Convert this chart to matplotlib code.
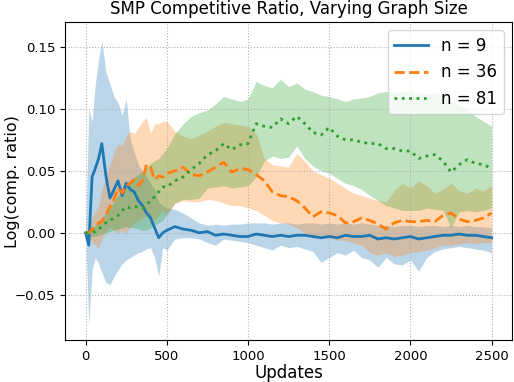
import numpy as np
import matplotlib
matplotlib.use('Agg')
import matplotlib.pyplot as plt

updates = [0, 20, 40, 60, 80, 100, 125, 150, 175, 200, 225, 250, 275, 300, 325, 350,
           375, 400, 425, 450, 475, 500, 550, 600, 650, 700, 750, 800, 850, 900, 950,
           1000, 1050, 1100, 1150, 1200, 1250, 1300, 1350, 1400, 1450, 1500, 1550,
           1600, 1650, 1700, 1750, 1800, 1850, 1900, 1950, 2000, 2050, 2100, 2150,
           2200, 2250, 2300, 2350, 2400, 2450, 2500]

# n = 9
n9_mean = [0, -0.010, 0.045, 0.052, 0.060, 0.072, 0.046, 0.028, 0.035, 0.042, 0.030, 0.040,
           0.035, 0.033, 0.026, 0.022, 0.016, 0.012, 0.004, -0.004, 0.0, 0.002, 0.005, 0.003,
           0.002, 0.0, 0.001, -0.002, -0.001, -0.002, -0.003, -0.003, -0.001, -0.002, -0.003,
           -0.002, -0.003, -0.002, -0.002, -0.003, -0.004, -0.003, -0.004, -0.002, -0.003,
           -0.003, -0.002, -0.005, -0.004, -0.005, -0.004, -0.003, -0.005, -0.004, -0.003,
           -0.002, -0.002, -0.001, -0.002, -0.002, -0.003, -0.004]
n9_hi = [0, 0.10, 0.09, 0.12, 0.14, 0.155, 0.13, 0.12, 0.11, 0.105, 0.095, 0.108, 0.075,
         0.065, 0.055, 0.05, 0.045, 0.04, 0.035, 0.025, 0.022, 0.02, 0.019, 0.016, 0.012,
         0.008, 0.006, 0.007, 0.006, 0.007, 0.007, 0.008, 0.008, 0.008, 0.007, 0.008, 0.008,
         0.007, 0.008, 0.008, 0.007, 0.008, 0.007, 0.008, 0.007, 0.008, 0.007, 0.006, 0.006,
         0.005, 0.006, 0.006, 0.005, 0.006, 0.006, 0.005, 0.006, 0.005, 0.006, 0.005, 0.005,
         0.004]
n9_lo = [0, -0.075, -0.03, -0.02, -0.025, -0.032, -0.04, -0.042, -0.035, -0.03, -0.025,
         -0.022, -0.02, -0.018, -0.016, -0.015, -0.013, -0.012, -0.02, -0.035, -0.012, -0.014,
         -0.005, -0.004, -0.004, -0.005, -0.008, -0.010, -0.005, -0.006, -0.007, -0.008, -0.010,
         -0.012, -0.014, -0.010, -0.012, -0.011, -0.013, -0.015, -0.024, -0.020, -0.016, -0.018,
         -0.014, -0.020, -0.022, -0.028, -0.020, -0.025, -0.026, -0.022, -0.031, -0.020, -0.015,
         -0.013, -0.012, -0.011, -0.012, -0.013, -0.014, -0.016]

# n = 36
n36_mean = [0, 0.0, 0.003, 0.005, 0.008, 0.009, 0.015, 0.021, 0.027, 0.036, 0.032, 0.038,
            0.040, 0.043, 0.038, 0.042, 0.055, 0.053, 0.043, 0.046, 0.045, 0.048, 0.050, 0.053,
            0.047, 0.046, 0.049, 0.053, 0.057, 0.049, 0.052, 0.051, 0.047, 0.042, 0.033, 0.030,
            0.029, 0.026, 0.020, 0.013, 0.017, 0.016, 0.014, 0.008, 0.009, 0.012, 0.010, 0.007,
            0.003, 0.008, 0.010, 0.009, 0.009, 0.010, 0.009, 0.014, 0.016, 0.011, 0.009, 0.010,
            0.012, 0.016]
n36_hi = [0, 0.005, 0.012, 0.018, 0.022, 0.035, 0.045, 0.055, 0.065, 0.072, 0.070, 0.078,
          0.082, 0.08, 0.085, 0.09, 0.093, 0.08, 0.088, 0.088, 0.090, 0.090, 0.082, 0.078,
          0.076, 0.079, 0.082, 0.086, 0.089, 0.088, 0.087, 0.086, 0.080, 0.060, 0.055, 0.054,
          0.053, 0.064, 0.058, 0.050, 0.047, 0.044, 0.040, 0.036, 0.032, 0.030, 0.028, 0.026,
          0.025, 0.034, 0.040, 0.036, 0.042, 0.038, 0.032, 0.035, 0.040, 0.034, 0.032, 0.036,
          0.034, 0.038]
n36_lo = [0, -0.004, -0.008, -0.010, -0.012, -0.005, 0.0, 0.005, 0.002, 0.0, 0.002, 0.0,
          0.005, 0.008, 0.010, 0.012, 0.014, 0.012, 0.010, 0.015, 0.018, 0.014, 0.024, 0.026,
          0.025, 0.025, 0.027, 0.026, 0.024, 0.022, 0.022, 0.020, 0.018, 0.014, 0.010, 0.008,
          0.007, 0.004, 0.0, -0.004, -0.002, -0.004, -0.006, -0.006, -0.008, -0.010, -0.016,
          -0.018, -0.016, -0.019, -0.018, -0.016, -0.015, -0.014, -0.012, -0.010, -0.010,
          -0.009, -0.008, -0.009, -0.008, -0.008]

# n = 81
n81_mean = [0, 0.0, 0.0, 0.001, 0.003, 0.005, 0.008, 0.010, 0.012, 0.014, 0.018, 0.021,
            0.020, 0.021, 0.021, 0.020, 0.022, 0.026, 0.029, 0.033, 0.037, 0.037, 0.042, 0.045,
            0.051, 0.056, 0.063, 0.066, 0.072, 0.067, 0.071, 0.072, 0.088, 0.086, 0.085, 0.092,
            0.088, 0.094, 0.088, 0.081, 0.079, 0.085, 0.078, 0.075, 0.075, 0.073, 0.072, 0.072,
            0.068, 0.068, 0.066, 0.066, 0.060, 0.062, 0.063, 0.058, 0.049, 0.055, 0.059, 0.056,
            0.055, 0.052]
n81_hi = [0, 0.002, 0.004, 0.006, 0.009, 0.012, 0.016, 0.020, 0.025, 0.030, 0.035, 0.040,
          0.042, 0.045, 0.047, 0.050, 0.053, 0.056, 0.058, 0.060, 0.064, 0.068, 0.080, 0.088,
          0.094, 0.097, 0.099, 0.104, 0.110, 0.108, 0.106, 0.108, 0.122, 0.119, 0.117, 0.124,
          0.118, 0.121, 0.116, 0.114, 0.111, 0.110, 0.108, 0.106, 0.108, 0.109, 0.110, 0.113,
          0.114, 0.113, 0.114, 0.115, 0.113, 0.112, 0.113, 0.110, 0.107, 0.103, 0.100, 0.094,
          0.090, 0.086]
n81_lo = [0, -0.002, -0.003, -0.003, -0.002, -0.001, 0.0, 0.001, 0.002, 0.003, 0.004, 0.005,
          0.004, 0.004, 0.003, 0.002, 0.002, 0.004, 0.006, 0.008, 0.010, 0.015, 0.024, 0.027,
          0.027, 0.028, 0.036, 0.037, 0.038, 0.036, 0.037, 0.038, 0.045, 0.058, 0.062, 0.060,
          0.061, 0.070, 0.060, 0.054, 0.050, 0.048, 0.044, 0.040, 0.038, 0.035, 0.030, 0.026,
          0.022, 0.020, 0.018, 0.018, 0.018, 0.020, 0.019, 0.018, 0.004, 0.017, 0.018, 0.017,
          0.018, 0.020]

fig = plt.figure(figsize=(5.14, 3.82), dpi=100)
ax = fig.add_axes([0.127, 0.11, 0.869, 0.832])

series = [('n = 9', n9_mean, n9_lo, n9_hi, 'tab:blue', '-'),
          ('n = 36', n36_mean, n36_lo, n36_hi, 'tab:orange', '--'),
          ('n = 81', n81_mean, n81_lo, n81_hi, 'tab:green', ':')]

for label, mean, lo, hi, col, ls in series:
    ax.fill_between(updates, lo, hi, color=col, alpha=0.3, linewidth=0)
    ax.plot(updates, mean, color=col, linestyle=ls, linewidth=2, label=label)

ax.set_ylim(-0.0865, 0.170)
ax.set_yticks([-0.05, 0.0, 0.05, 0.10, 0.15])
ax.set_xticks([0, 500, 1000, 1500, 2000, 2500])
ax.grid(True, linestyle=':', color='#b0b0b0', linewidth=0.8)
ax.set_title('SMP Competitive Ratio, Varying Graph Size', fontsize=12)
ax.set_xlabel('Updates', fontsize=12, labelpad=1)
ax.set_ylabel('Log(comp. ratio)', fontsize=11.5)
ax.yaxis.set_label_coords(-0.102, 0.5)
ax.tick_params(labelsize=9.5)
ax.legend(loc='upper right', fontsize=12)

fig.savefig('out.png', dpi=100)
